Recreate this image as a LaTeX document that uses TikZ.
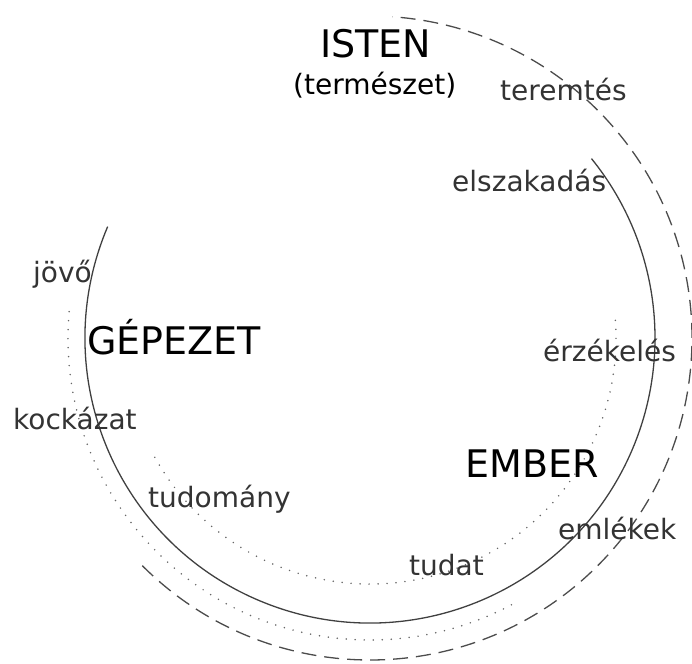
\documentclass[tikz,border=0pt]{standalone}
\usepackage{fontspec}
\setmainfont{DejaVu Sans}
\begin{document}
\begin{tikzpicture}[x=1pt,y=1pt,
	nagy/.style={anchor=base west,inner sep=0pt,font=\fontsize{38}{40}\selectfont},
	kicsi/.style={anchor=base west,inner sep=0pt,text=black!80,font=\fontsize{28}{30}\selectfont},
	folyt/.style={black!75,line width=1.3pt},
	szagg/.style={black!70,line width=1.3pt,dash pattern=on 15pt off 8pt},
	pont/.style={black!60,line width=1.7pt,line cap=round,dash pattern=on 0pt off 9pt}]
				\useasboundingbox (0,0) rectangle (692,663);
				\coordinate (O) at (370,325);
				% korok
				\draw[folyt] (O) ++(157:285) arc[start angle=157, end angle=399, radius=285];
				\draw[szagg] (O) ++(-135:322) arc[start angle=-135, end angle=86, radius=322];
				\draw[pont] (O) ++(175:302) arc[start angle=175, end angle=298, radius=302];
				\draw[pont] (O) ++(-151:246) arc[start angle=-151, end angle=6, radius=246];
				% feliratok
				\node[nagy] (isten) at (320,605) {ISTEN};
				\node[nagy,font=\fontsize{28}{30}\selectfont] (term) at (293,568) {(természet)};
				\node[kicsi] (teremtes) at (500,562) {teremtés};
				\node[kicsi] (elszakadas) at (452,471) {elszakadás};
				\node[kicsi] (jovo) at (33,380) {jövő};
				\node[nagy] (gepezet) at (87,308) {GÉPEZET};
				\node[kicsi] (kockazat) at (13,233) {kockázat};
				\node[kicsi] (erzekeles) at (543,301) {érzékelés};
				\node[nagy] (ember) at (465,185) {EMBER};
				\node[kicsi] (emlekek) at (558,123) {emlékek};
				\node[kicsi] (tudat) at (409,88) {tudat};
				\node[kicsi] (tudomany) at (148,155) {tudomány};
			\end{tikzpicture}
\end{document}
